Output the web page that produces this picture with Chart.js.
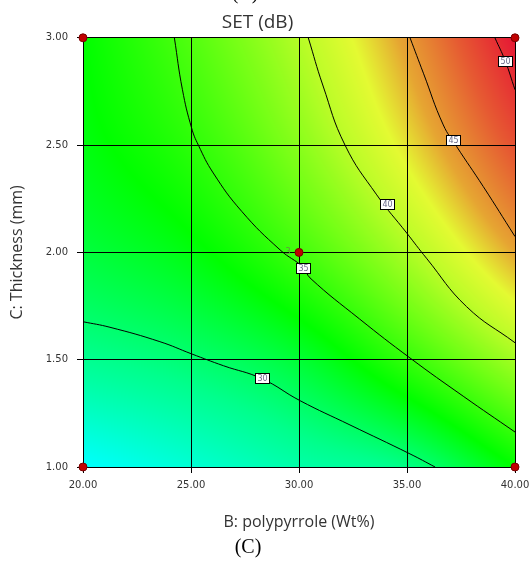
<!DOCTYPE html>
<html>
<head>
<meta charset="utf-8">
<script src="https://cdn.jsdelivr.net/npm/chart.js@4.4.1/dist/chart.umd.min.js"></script>
<style>
  html, body { margin: 0; padding: 0; background: #fff; }
  #wrap { width: 531px; height: 561px; }
</style>
</head>
<body>
<div id="wrap"><canvas id="set_chart"></canvas></div>
<script>
// response grid (SET in dB), rows = thickness
const bGrid = [20, 25, 30, 35, 40];
const cGrid = [1.0, 1.5, 2.0, 2.5, 3.0];
const setGrid = [
    [25.0, 26.5, 28.0, 29.2, 33.0],
    [28.8, 29.8, 31.5, 34.9, 39.0],
    [31.2, 32.6, 35.4, 39.3, 44.3],
    [32.5, 34.6, 38.0, 42.6, 48.3],
    [33.0, 36.0, 39.7, 44.8, 51.5]
];

// contour lines
const contour30 = [[20, 1.677], [21.25, 1.651], [23.56, 1.584], [25.03, 1.527], [26.5, 1.472], [28.27, 1.412], [30.05, 1.309], [32.36, 1.196], [35.14, 1.061], [36.3, 1.0]];
const contour35 = [[24.23, 3.0], [24.6, 2.76], [25.03, 2.579], [25.34, 2.5], [26.03, 2.37], [27.35, 2.191], [29.12, 2.012], [30.2, 1.93], [30.51, 1.881], [32.8, 1.69], [35.14, 1.508], [37.6, 1.33], [40, 1.163]];
const contour40 = [[30.43, 3.0], [31.1, 2.78], [32.13, 2.5], [33.6, 2.268], [34.99, 2.09], [35.9, 1.973], [37.76, 1.747], [40, 1.579]];
const contour45 = [[35.14, 3.0], [35.76, 2.835], [36.68, 2.594], [37.3, 2.493], [38.53, 2.307], [40, 2.074]];
const contour50 = [[39.07, 3.0], [39.54, 2.894], [40, 2.758]];

const contourLevels = [30, 35, 40, 45, 50];
const labelB = [28.27, 30.2, 34.09, 37.14, 39.54];
const labelC = [1.414, 1.927, 2.225, 2.524, 2.894];

// design points
const designB = [20, 40, 30, 20, 40];
const designC = [3.0, 3.0, 2.0, 1.0, 1.0];
const centerReplicates = '3';

const xTicks = [20, 25, 30, 35, 40];
const yTicks = [1.0, 1.5, 2.0, 2.5, 3.0];

// colour ramp (value -> rgb)
const rampVal = [25, 29, 33, 37, 40, 42.0, 44.3, 47.8, 51.5];
const rampRgb = [[0,255,255], [0,255,140], [0,255,0], [110,255,20], [190,252,40], [228,250,50], [230,165,50], [230,90,50], [230,22,52]];

function toPts(arr){
    return arr.map(function(p){ return {x: p[0], y: p[1]}; });
}

// value at grid index with linear extension past the edges
function gridAt(j, i){
    const nj = cGrid.length, ni = bGrid.length;
    if(i < 0) return 2 * gridAt(j, 0) - gridAt(j, 1);
    if(i >= ni) return 2 * gridAt(j, ni - 1) - gridAt(j, ni - 2);
    if(j < 0) return 2 * gridAt(0, i) - gridAt(1, i);
    if(j >= nj) return 2 * gridAt(nj - 1, i) - gridAt(nj - 2, i);
    return setGrid[j][i];
}

function cr(p0, p1, p2, p3, t){
    return 0.5 * ((2 * p1) + (-p0 + p2) * t + (2 * p0 - 5 * p1 + 4 * p2 - p3) * t * t + (-p0 + 3 * p1 - 3 * p2 + p3) * t * t * t);
}

function interp(b, c){
    let i = 0, j = 0;
    while(i < bGrid.length - 2 && b > bGrid[i + 1]) i++;
    while(j < cGrid.length - 2 && c > cGrid[j + 1]) j++;
    const tx = Math.min(1, Math.max(0, (b - bGrid[i]) / (bGrid[i + 1] - bGrid[i])));
    const ty = Math.min(1, Math.max(0, (c - cGrid[j]) / (cGrid[j + 1] - cGrid[j])));
    const rows = [];
    for(let dj = -1; dj <= 2; dj++){
        rows.push(cr(gridAt(j + dj, i - 1), gridAt(j + dj, i), gridAt(j + dj, i + 1), gridAt(j + dj, i + 2), tx));
    }
    return cr(rows[0], rows[1], rows[2], rows[3], ty);
}

function rampColor(v){
    if(v <= rampVal[0]) return rampRgb[0];
    for(let k = 1; k < rampVal.length; k++){
        if(v <= rampVal[k]){
            const t = (v - rampVal[k - 1]) / (rampVal[k] - rampVal[k - 1]);
            const a = rampRgb[k - 1], b = rampRgb[k];
            return [a[0] + (b[0] - a[0]) * t, a[1] + (b[1] - a[1]) * t, a[2] + (b[2] - a[2]) * t];
        }
    }
    return rampRgb[rampRgb.length - 1];
}

// paint the response surface behind the grid
const surfacePlugin = {
    id: 'surface',
    beforeDraw: function(chart){
        const area = chart.chartArea;
        const xs = chart.scales.x, ys = chart.scales.y;
        const w = Math.round(area.right - area.left), h = Math.round(area.bottom - area.top);
        const off = document.createElement('canvas');
        off.width = w; off.height = h;
        const octx = off.getContext('2d');
        const img = octx.createImageData(w, h);
        for(let py = 0; py < h; py++){
            const c = ys.getValueForPixel(area.top + py + 0.5);
            for(let px = 0; px < w; px++){
                const b = xs.getValueForPixel(area.left + px + 0.5);
                const col = rampColor(interp(b, c));
                const k = (py * w + px) * 4;
                img.data[k] = col[0]; img.data[k + 1] = col[1]; img.data[k + 2] = col[2]; img.data[k + 3] = 255;
            }
        }
        octx.putImageData(img, 0, 0);
        chart.ctx.drawImage(off, area.left, area.top);
    },
    afterDatasetsDraw: function(chart){
        const ctx = chart.ctx;
        const xs = chart.scales.x, ys = chart.scales.y;
        ctx.save();
        ctx.font = '8px "DejaVu Sans"';
        ctx.textAlign = 'center';
        ctx.textBaseline = 'middle';
        for(let k = 0; k < contourLevels.length; k++){
            const cx = Math.round(xs.getPixelForValue(labelB[k]));
            const cy = Math.round(ys.getPixelForValue(labelC[k]));
            ctx.fillStyle = '#ffffff';
            ctx.fillRect(cx - 7, cy - 5, 15, 11);
            ctx.strokeStyle = '#000000';
            ctx.lineWidth = 1;
            ctx.strokeRect(cx - 7 + 0.5, cy - 5 + 0.5, 14, 10);
            ctx.fillStyle = '#6a6a8a';
            ctx.fillText(String(contourLevels[k]), cx + 0.5, cy + 1);
        }
        // replicate count next to centre point
        ctx.fillStyle = '#6a8a4a';
        ctx.fillText(centerReplicates, xs.getPixelForValue(designB[2]) - 11, ys.getPixelForValue(designC[2]));
        // panel captions
        ctx.fillStyle = '#000000';
        ctx.font = '20px "Liberation Serif"';
        ctx.fillText('(C)', 248, 548);
        ctx.fillText('(B)', 245, -6);
        ctx.restore();
    }
};

function contourSet(pts){
    return {
        type: 'scatter',
        data: toPts(pts),
        showLine: true,
        borderColor: '#000000',
        borderWidth: 1,
        pointRadius: 0,
        tension: 0.45,
        order: 2
    };
}

function initSurfaceChart(){
    const ctx = document.getElementById('set_chart').getContext('2d');
    const tickFont = {family: '"DejaVu Sans"', size: 10};
    new Chart(ctx, {
        type: 'scatter',
        data: {
            datasets: [
                contourSet(contour30),
                contourSet(contour35),
                contourSet(contour40),
                contourSet(contour45),
                contourSet(contour50),
                {
                    type: 'scatter',
                    data: designB.map(function(b, i){ return {x: b, y: designC[i]}; }),
                    pointRadius: 4,
                    backgroundColor: '#c00000',
                    borderColor: '#7a0000',
                    borderWidth: 1,
                    clip: false,
                    order: 1
                }
            ]
        },
        options: {
            responsive: true,
            maintainAspectRatio: false,
            animation: false,
            layout: {padding: {left: 0, right: 16, top: 0, bottom: 24}},
            plugins: {
                legend: {display: false},
                tooltip: {enabled: false},
                title: {
                    display: true,
                    text: 'SET (dB)',
                    color: '#333333',
                    font: {family: '"Open Sans"', size: 19, weight: 'normal'},
                    padding: {top: 11, bottom: 4}
                }
            },
            scales: {
                x: {
                    type: 'linear',
                    min: 20, max: 40,
                    afterBuildTicks: function(scale){ scale.ticks = xTicks.map(function(v){ return {value: v}; }); },
                    afterFit: function(scale){ scale.height = 70; scale.paddingLeft = 0; scale.paddingRight = 0; },
                    ticks: {
                        color: '#333333', font: tickFont, padding: 6, maxRotation: 0,
                        callback: function(v){ return Number(v).toFixed(2); }
                    },
                    grid: {color: '#000000', lineWidth: 1, tickLength: 6, tickColor: '#000000'},
                    border: {display: true, color: '#000000'},
                    title: {
                        display: true, text: 'B: polypyrrole (Wt%)', color: '#333333',
                        font: {family: '"Open Sans"', size: 16}, padding: {top: 0, bottom: 5}
                    }
                },
                y: {
                    type: 'linear',
                    min: 1, max: 3,
                    afterBuildTicks: function(scale){ scale.ticks = yTicks.map(function(v){ return {value: v}; }); },
                    afterFit: function(scale){ scale.width = 83; scale.paddingTop = 0; scale.paddingBottom = 0; },
                    ticks: {
                        color: '#333333', font: tickFont, padding: 9,
                        callback: function(v){ return Number(v).toFixed(2); }
                    },
                    grid: {color: '#000000', lineWidth: 1, tickLength: 6, tickColor: '#000000'},
                    border: {display: true, color: '#000000'},
                    title: {
                        display: true, text: 'C: Thickness (mm)', color: '#333333',
                        font: {family: '"Open Sans"', size: 16}, padding: {top: 8, bottom: 0}
                    }
                }
            }
        },
        plugins: [surfacePlugin]
    });
}

initSurfaceChart();
</script>
</body>
</html>
